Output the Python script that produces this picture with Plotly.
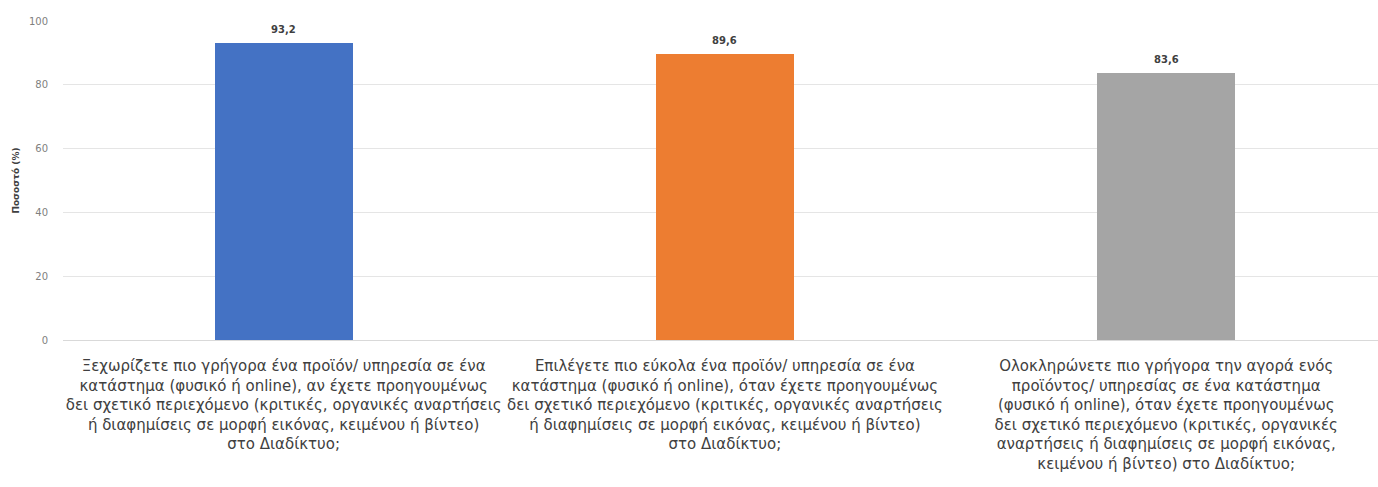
import plotly.graph_objects as go

categories = [
    "Ξεχωρίζετε πιο γρήγορα ένα προϊόν/ υπηρεσία σε ένα<br>κατάστημα (φυσικό ή online), αν έχετε προηγουμένως<br>δει σχετικό περιεχόμενο (κριτικές, οργανικές αναρτήσεις<br>ή διαφημίσεις σε μορφή εικόνας, κειμένου ή βίντεο)<br>στο Διαδίκτυο;",
    "Επιλέγετε πιο εύκολα ένα προϊόν/ υπηρεσία σε ένα<br>κατάστημα (φυσικό ή online), όταν έχετε προηγουμένως<br>δει σχετικό περιεχόμενο (κριτικές, οργανικές αναρτήσεις<br>ή διαφημίσεις σε μορφή εικόνας, κειμένου ή βίντεο)<br>στο Διαδίκτυο;",
    "Ολοκληρώνετε πιο γρήγορα την αγορά ενός<br>προϊόντος/ υπηρεσίας σε ένα κατάστημα<br>(φυσικό ή online), όταν έχετε προηγουμένως<br>δει σχετικό περιεχόμενο (κριτικές, οργανικές<br>αναρτήσεις ή διαφημίσεις σε μορφή εικόνας,<br>κειμένου ή βίντεο) στο Διαδίκτυο;",
]
values = [93.2, 89.6, 83.6]
colors = ["#4472C4", "#ED7D31", "#A5A5A5"]
y_ticks = [0, 20, 40, 60, 80, 100]

x_pos = list(range(len(categories)))

fig = go.Figure()
fig.add_trace(go.Bar(
    x=x_pos,
    y=values,
    marker=dict(color=colors, line=dict(width=0)),
    width=0.313,
))

for xi, v in zip(x_pos, values):
    fig.add_annotation(
        x=xi, y=v, text=f"<b>{v:.1f}</b>".replace(".", ","),
        showarrow=False, yanchor="bottom", yshift=6,
        font=dict(family="DejaVu Sans", size=10, color="#404040"),
    )

fig.update_layout(
    width=1378, height=487,
    margin=dict(l=63, r=0, t=21, b=147),
    paper_bgcolor="white", plot_bgcolor="white",
    showlegend=False,
    bargap=0,
    font=dict(family="DejaVu Sans"),
)
fig.update_xaxes(
    tickmode="array",
    tickvals=x_pos,
    ticktext=categories,
    range=[-0.5, 2.48],
    tickfont=dict(family="DejaVu Sans", size=15, color="#404040"),
    showgrid=False,
    showline=True, linecolor="#D9D9D9", linewidth=1,
    ticks="", ticklabelstandoff=12,
)
fig.update_yaxes(
    range=[0, 100],
    tickvals=y_ticks,
    tickfont=dict(family="DejaVu Sans", size=10, color="#7F7F7F"),
    showgrid=True, gridcolor="#E5E5E5", gridwidth=1,
    zeroline=False,
    ticks="", ticklabelstandoff=14,
    title=dict(text="<b>Ποσοστό (%)</b>", font=dict(family="DejaVu Sans", size=9, color="#404040"), standoff=7),
)

fig.write_html("out.html")
